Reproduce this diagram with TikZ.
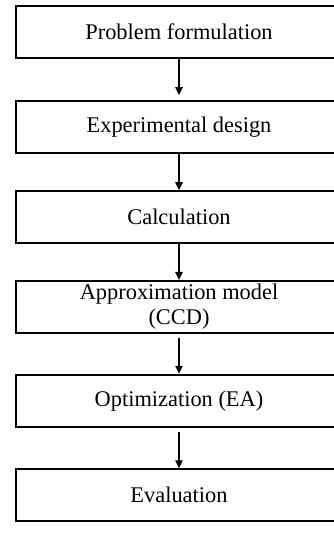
\documentclass[tikz,border=0pt]{standalone}
\usepackage{fontspec}
\setmainfont{Liberation Serif}
\usetikzlibrary{arrows.meta}
\usetikzlibrary{positioning}

\begin{document}
\begin{tikzpicture}[x=1pt, y=-1pt,
    stage/.style={draw, line width=1.8pt, minimum width=326pt, minimum height=52pt,
      inner sep=0pt, align=center, font=\fontsize{22.4}{25}\selectfont},
    flow/.style={line width=1.4pt, -{Triangle[length=8pt, width=7.5pt]}}]
  \path [use as bounding box, clip] (0, 0) rectangle (334, 556);

  \node (prob) at (179, 32.2) [stage] {Problem formulation};
  \node (exp) at (179, 127) [stage] {Experimental design};
  \node (calc) at (179, 217) [stage] {Calculation};
  \node (approx) at (179, 306.8) [stage] {Approximation model\\(CCD)};
  \node (opt) at (179, 400.7) [stage] {Optimization (EA)};
  \node (eval) at (179, 495.2) [stage] {Evaluation};

  \draw [flow, shorten >=5pt] (prob) -- (exp);
  \draw [flow] (exp) -- (calc);
  \draw [flow] (calc) -- (approx);
  \draw [flow, shorten <=4pt] (approx) -- (opt);
  \draw [flow, shorten <=4pt] (opt) -- (eval);
\end{tikzpicture}
\end{document}
